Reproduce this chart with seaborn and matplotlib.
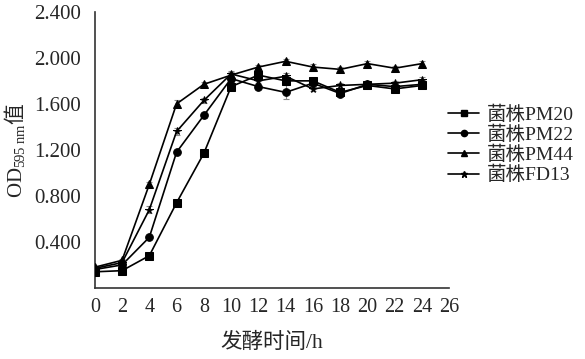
import numpy as np
import pandas as pd
import matplotlib
matplotlib.use("Agg")
import matplotlib.pyplot as plt
import seaborn as sns
from matplotlib.lines import Line2D

# ---- data ----
time_h = [0, 2, 4, 6, 8, 10, 12, 14, 16, 18, 20, 22, 24]
strains = ["菌株PM20", "菌株PM22", "菌株PM44", "菌株FD13"]
pm20 = [0.14, 0.15, 0.28, 0.74, 1.17, 1.75, 1.85, 1.80, 1.80, 1.70, 1.76, 1.73, 1.76]
pm22 = [0.16, 0.20, 0.44, 1.18, 1.50, 1.82, 1.75, 1.70, 1.78, 1.69, 1.77, 1.75, 1.77]
pm44 = [0.18, 0.24, 0.90, 1.60, 1.77, 1.85, 1.92, 1.97, 1.92, 1.90, 1.95, 1.91, 1.95]
fd13 = [0.17, 0.22, 0.68, 1.36, 1.63, 1.86, 1.80, 1.84, 1.73, 1.76, 1.77, 1.78, 1.81]
err20 = [0.01, 0.01, 0.01, 0.02, 0.02, 0.02, 0.02, 0.02, 0.02, 0.02, 0.02, 0.02, 0.02]
err22 = [0.01, 0.01, 0.01, 0.02, 0.02, 0.03, 0.02, 0.06, 0.02, 0.02, 0.02, 0.02, 0.02]
err44 = [0.01, 0.01, 0.02, 0.03, 0.02, 0.03, 0.02, 0.02, 0.03, 0.02, 0.02, 0.02, 0.02]
err13 = [0.01, 0.01, 0.03, 0.03, 0.02, 0.03, 0.02, 0.03, 0.02, 0.02, 0.02, 0.02, 0.02]
series = [pm20, pm22, pm44, fd13]
errors = [err20, err22, err44, err13]
markers = ["s", "o", "^", "*"]
yticks = [0, 0.4, 0.8, 1.2, 1.6, 2.0, 2.4]
ytick_labels = ["", "0.400", "0.800", "1.200", "1.600", "2.000", "2.400"]
xticks = list(range(0, 27, 2))

df = pd.DataFrame({
    "time": time_h * 4,
    "od": sum(series, []),
    "strain": sum([[s] * len(time_h) for s in strains], []),
})

sns.set_style("white")
plt.rcParams["font.family"] = ["Liberation Serif", "Noto Sans CJK SC"]
plt.rcParams["mathtext.fontset"] = "custom"
plt.rcParams["mathtext.rm"] = "Liberation Serif"
plt.rcParams["mathtext.it"] = "Liberation Serif:italic"

fig = plt.figure(figsize=(5.85, 3.59), dpi=100)
ax = fig.add_axes([0.162, 0.198, 0.606, 0.769])

for s, e in zip(series, errors):
    ax.errorbar(time_h, s, yerr=e, fmt="none", ecolor="#888888",
                elinewidth=0.8, capsize=2.5, capthick=0.8, zorder=1)

sns.lineplot(data=df, x="time", y="od", hue="strain", style="strain",
             hue_order=strains, style_order=strains,
             palette=["black"] * 4, markers=markers, dashes=False,
             markersize=5.5, linewidth=1.2, markeredgecolor="black",
             legend=False, ax=ax, zorder=3)

ax.set_xlim(0, 26)
ax.set_ylim(0, 2.4)
ax.set_xticks(xticks)
ax.set_xticklabels([str(t) for t in xticks], fontsize=14.5)
ax.set_yticks(yticks)
ax.set_yticklabels(ytick_labels, fontsize=15)
ax.tick_params(axis="y", direction="in", length=4, width=1, color="#333333", pad=10)
ax.tick_params(axis="x", direction="in", length=4, width=1, color="#333333", pad=7)
for side in ["top", "right"]:
    ax.spines[side].set_visible(False)
for side in ["left", "bottom"]:
    ax.spines[side].set_color("#333333")
    ax.spines[side].set_linewidth(1.2)

ax.set_xlabel("发酵时间/h", fontsize=15.5, family=["Liberation Serif", "Noto Sans CJK SC"], labelpad=12)
ax.set_ylabel(r"$\mathrm{OD_{595\ nm}}$值", fontsize=15, family=["Noto Sans CJK SC"], labelpad=5)

handles = [Line2D([0], [0], color="black", marker=m, markersize=4.5, linewidth=1.2)
           for m in markers]
leg = ax.legend(handles, strains, loc="upper left", bbox_to_anchor=(0.975, 0.69),
                frameon=False, fontsize=14, handlelength=1.6, handletextpad=0.4,
                labelspacing=0.1, borderaxespad=0)

fig.savefig("out.png", dpi=100)
